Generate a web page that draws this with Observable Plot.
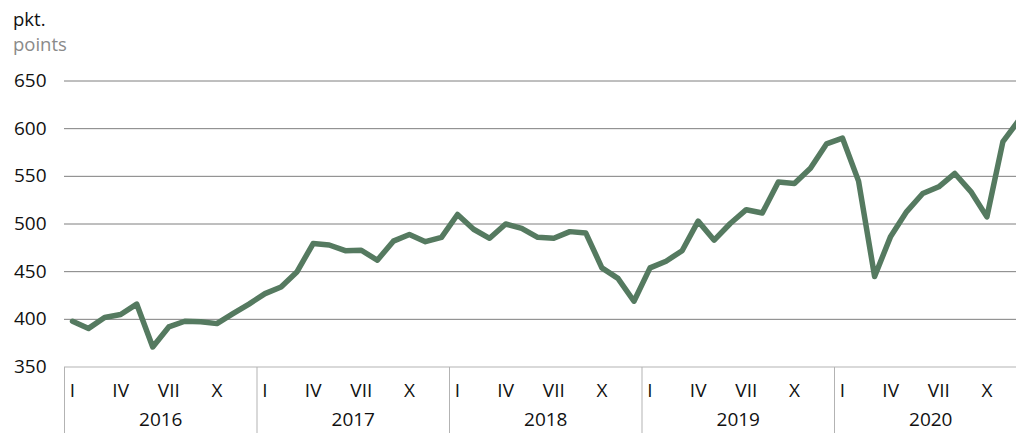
<!DOCTYPE html>
<html><head><meta charset="utf-8">
<script src="https://cdn.jsdelivr.net/npm/d3@7"></script>
<script src="https://cdn.jsdelivr.net/npm/@observablehq/plot@0.6"></script>
<style>
body{margin:0;background:#fff;overflow:hidden;font-family:"Open Sans",sans-serif;}
#head{height:56px;box-sizing:border-box;padding:6px 0 0 13px;font-size:18.5px;line-height:25px;}
#chart svg{display:block;overflow:hidden}
</style></head><body>
<div id="head"><div style="color:#111">pkt.</div><div style="color:#8a8a8a">points</div></div>
<div id="chart"></div>
<script>
const years = [2016, 2017, 2018, 2019, 2020];
const monthNames = ["I","II","III","IV","V","VI","VII","VIII","IX","X","XI","XII"];
const labelledMonths = [0, 3, 6, 9];
const yTicks = [350, 400, 450, 500, 550, 600, 650];
const values = [
  398, 390.5, 402, 405, 416, 371, 392, 398, 397.5, 395.5, 406, 416,
  427, 434, 450, 479.5, 478, 472, 472.5, 462, 482, 489, 481.5, 486,
  510, 494.5, 485, 500, 495.5, 486, 485, 492, 490.5, 454, 443, 419,
  454, 461, 472, 503, 483, 500.5, 515, 511.5, 544, 542.5, 558.5, 584,
  590, 545, 445, 487, 513, 532, 539, 553, 534, 507.5, 586.5, 609
];
const data = values.map((v, i) => ({t: i + 0.5, v}));
const monthTicks = years.flatMap((y, k) => labelledMonths.map(m => k * 12 + m + 0.5));
const yearStarts = years.map((y, k) => k * 12);
const yearCenters = years.map((y, k) => k * 12 + 6);

const chart = Plot.plot({
  width: 1016, height: 377,
  marginLeft: 64, marginRight: 0, marginTop: 24, marginBottom: 66,
  x: {domain: [0, 60], range: [64, 1026.5]},
  y: {domain: [350, 650], range: [310.5, 24.5]},
  style: {fontFamily: "'Open Sans', sans-serif", fontSize: "19px", color: "#111", background: "#fff"},
  marks: [
    Plot.ruleY(yTicks.filter(d => d > 350), {stroke: "#7f7f7f", strokeWidth: 1}),
    Plot.ruleY([350], {stroke: "#b3b3b3", strokeWidth: 1}),
    Plot.axisY({ticks: yTicks, tickSize: 0, tickPadding: 18, label: null, fontSize: 19}),
    Plot.axisX({ticks: yearStarts, tickSize: 66, tickFormat: () => "", stroke: "#b3b3b3", label: null}),
    Plot.axisX({ticks: monthTicks, tickSize: 0, tickPadding: 16, label: null, fontSize: 19,
      tickFormat: d => monthNames[Math.round(d - 0.5) % 12]}),
    Plot.axisX({ticks: yearCenters, tickSize: 0, tickPadding: 45, label: null, fontSize: 19,
      tickFormat: d => String(years[Math.round((d - 6) / 12)])}),
    Plot.line(data, {x: "t", y: "v", stroke: "#557a60", strokeWidth: 5.5})
  ]
});
document.getElementById("chart").appendChild(chart);
</script>
</body></html>
